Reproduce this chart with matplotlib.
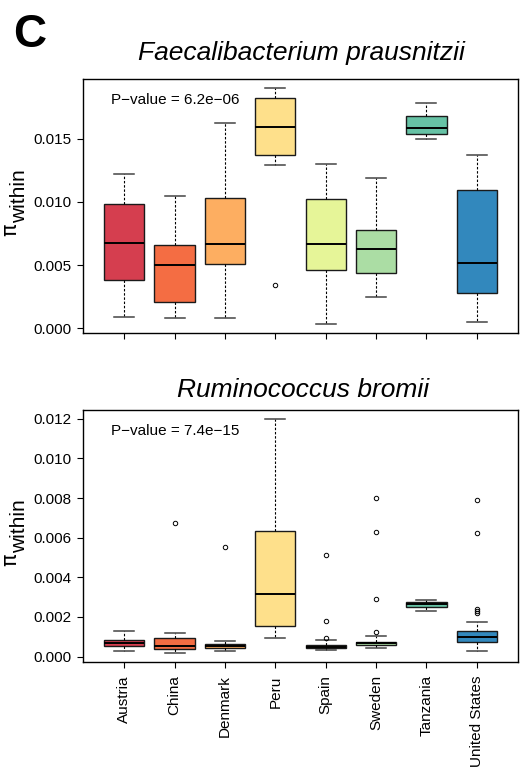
import matplotlib
matplotlib.use("Agg")
import matplotlib.pyplot as plt
from matplotlib.ticker import FuncFormatter, MultipleLocator

plt.rcParams['font.family'] = ['Liberation Sans', 'DejaVu Sans']

countries = ["Austria", "China", "Denmark", "Peru", "Spain", "Sweden", "Tanzania", "United States"]
colors = ["#D53E4F", "#F46D43", "#FDAE61", "#FEE08B", "#E6F598", "#ABDDA4", "#66C2A5", "#3288BD"]

# Faecalibacterium prausnitzii
fp_whislo = [0.00093, 0.00082, 0.00079, 0.01293, 0.00037, 0.00248, 0.01493, 0.00051]
fp_q1     = [0.00380, 0.00211, 0.00509, 0.01366, 0.00459, 0.00438, 0.01535, 0.00277]
fp_med    = [0.00672, 0.00498, 0.00668, 0.01593, 0.00665, 0.00625, 0.01580, 0.00514]
fp_q3     = [0.00981, 0.00657, 0.01026, 0.01817, 0.01018, 0.00775, 0.01677, 0.01092]
fp_whishi = [0.01222, 0.01044, 0.01622, 0.01896, 0.01297, 0.01190, 0.01778, 0.01366]
fp_fliers = [[], [], [], [0.00346], [], [], [], []]
fp_pvalue = "P\u2212value = 6.2e\u221206"

# Ruminococcus bromii
rb_whislo = [0.00030, 0.00020, 0.00028, 0.00095, 0.00032, 0.00044, 0.00231, 0.00030]
rb_q1     = [0.00054, 0.00038, 0.00045, 0.00152, 0.00044, 0.00059, 0.00249, 0.00074]
rb_med    = [0.00069, 0.00055, 0.00052, 0.00315, 0.00050, 0.00067, 0.00264, 0.00100]
rb_q3     = [0.00085, 0.00095, 0.00062, 0.00636, 0.00060, 0.00075, 0.00276, 0.00129]
rb_whishi = [0.00127, 0.00119, 0.00077, 0.01197, 0.00082, 0.00102, 0.00286, 0.00177]
rb_fliers = [[], [0.00676], [0.00551], [], [0.00514, 0.00182, 0.00094],
             [0.00798, 0.00628, 0.00291, 0.00124], [],
             [0.00788, 0.00623, 0.00238, 0.00228, 0.00219]]
rb_pvalue = "P\u2212value = 7.4e\u221215"

W, H = 530, 771
fig = plt.figure(figsize=(W / 100, H / 100), dpi=100)


def make_axes(left, right, top, bottom):
    return fig.add_axes([left / W, 1 - bottom / H, (right - left) / W, (bottom - top) / H])


def panel(ax, whislo, q1, med, q3, whishi, fliers, ticks, fmt, pvalue, show_labels):
    stats = []
    for i in range(len(countries)):
        stats.append(dict(whislo=whislo[i], q1=q1[i], med=med[i], q3=q3[i],
                          whishi=whishi[i], fliers=fliers[i], label=countries[i]))
    pos = list(range(1, len(countries) + 1))
    bp = ax.bxp(stats, positions=pos, widths=0.8, patch_artist=True,
                boxprops=dict(edgecolor='#1a1a1a', linewidth=1.0),
                medianprops=dict(color='black', linewidth=1.4),
                whiskerprops=dict(color='black', linewidth=0.8, linestyle=(0, (2.2, 1.6))),
                capprops=dict(color='#444444', linewidth=1.1),
                flierprops=dict(marker='o', markersize=3.2, markerfacecolor='none',
                                markeredgecolor='black', markeredgewidth=0.7, linestyle='none'),
                capwidths=0.4)
    for patch, c in zip(bp['boxes'], colors):
        patch.set_facecolor(c)
    allv = whislo + whishi + [v for f in fliers for v in f]
    lo, hi = min(allv), max(allv)
    r = hi - lo
    ax.set_ylim(lo - 0.04 * r, hi + 0.04 * r)
    ax.set_xlim(0.5 - 0.04 * 8, 8.5 + 0.04 * 8)
    ax.yaxis.set_major_locator(MultipleLocator(ticks))
    ax.yaxis.set_major_formatter(FuncFormatter(lambda v, p: fmt.format(v)))
    ax.set_xticks(pos)
    if show_labels:
        ax.set_xticklabels(countries, rotation=90, fontsize=11)
    else:
        ax.set_xticklabels([])
    ax.tick_params(axis='both', direction='out', length=4.5, width=0.8, labelsize=11, pad=3.5)
    ax.tick_params(axis='x', pad=5)
    for s in ax.spines.values():
        s.set_linewidth(1.0)
        s.set_color('black')
    ax.text(0.064, 0.902, pvalue, transform=ax.transAxes, fontsize=11, va='baseline', ha='left')


ax1 = make_axes(83, 518, 79, 333)
panel(ax1, fp_whislo, fp_q1, fp_med, fp_q3, fp_whishi, fp_fliers, 0.005, "{:.3f}", fp_pvalue, False)
ax2 = make_axes(83, 518, 410, 662)
panel(ax2, rb_whislo, rb_q1, rb_med, rb_q3, rb_whishi, rb_fliers, 0.002, "{:.3f}", rb_pvalue, True)

fig.text(301 / W, 1 - 60 / H, "Faecalibacterium prausnitzii", fontsize=19, style='italic',
         ha='center', va='baseline')
fig.text(303 / W, 1 - 397 / H, "Ruminococcus bromii", fontsize=19, style='italic',
         ha='center', va='baseline')
fig.text(13 / W, 1 - 47 / H, "C", fontsize=33, fontweight='bold', ha='left', va='baseline')

for yc in (206, 536):
    fig.text(16.5 / W, 1 - (yc + 23.5) / H, "\u03c0", fontsize=15,
             family='DejaVu Sans', rotation=90, rotation_mode='anchor',
             ha='center', va='baseline')
    fig.text(25 / W, 1 - (yc - 10) / H, "within", fontsize=15,
             rotation=90, rotation_mode='anchor', ha='center', va='baseline')

fig.savefig("out.png", dpi=100)
